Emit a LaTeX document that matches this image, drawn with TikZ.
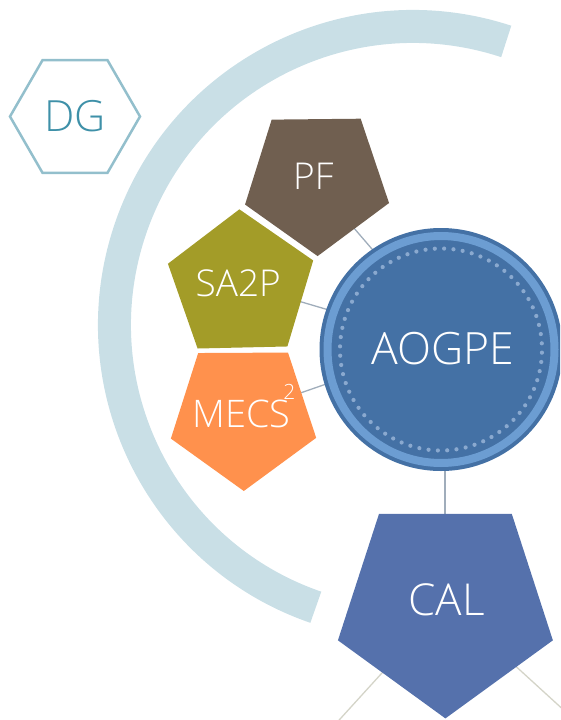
\documentclass[tikz,border=0pt]{standalone}
\usepackage{fontspec}
\setmainfont{Open Sans Light}
\usetikzlibrary{shapes.geometric,backgrounds}
\definecolor{arcC}{HTML}{C9DFE6}
\definecolor{hexC}{HTML}{93BFCC}
\definecolor{dgC}{HTML}{3E90A8}
\definecolor{pfC}{HTML}{705F50}
\definecolor{saC}{HTML}{A39C28}
\definecolor{meC}{HTML}{FF914D}
\definecolor{calC}{HTML}{5571AC}
\definecolor{hubC}{HTML}{4471A5}
\definecolor{ringC}{HTML}{6C9DD2}
\definecolor{dotC}{HTML}{8AA9CF}
\definecolor{linkC}{HTML}{A0ADBB}
\definecolor{linkB}{HTML}{D4D4C8}
\newcommand{\fs}[1]{\fontsize{#1}{#1}\selectfont}
\tikzset{
  penta/.style={regular polygon,regular polygon sides=5,inner sep=0pt,outer sep=0pt,draw=none,text=white},
  lbl/.style={text=white,inner sep=0pt,outer sep=0pt},
  link/.style={draw=linkC,line width=1.3pt},
  linkb/.style={draw=linkB,line width=1.3pt}
}
\begin{document}
\begin{tikzpicture}[x=1pt,y=-1pt]
\clip (0,0) rectangle (560,720);
\draw[arcC,line width=33pt] ([shift={(71.8:298.5pt)}]413,325) arc[start angle=71.8,end angle=251,radius=298.5pt];
\node[regular polygon,regular polygon sides=6,minimum size=130pt,inner sep=0pt,outer sep=0pt,draw=hexC,line width=2.5pt,text=dgC,font=\fs{43}] (DG) at (75,116.5) {DG};
\node[penta,fill=pfC,minimum size=151.4pt,shape border rotate=180.6,label={[lbl,font=\fs{37},xshift=-3.5pt,yshift=4pt]center:PF}] (PF) at (316.8,180.4) {};
\node[penta,fill=saC,minimum size=152.8pt,shape border rotate=1.3,label={[lbl,font=\fs{37},xshift=-2.8pt,yshift=2.4pt]center:SA2P}] (SA2P) at (241.1,285.7) {};
\node[penta,fill=meC,minimum size=152.8pt,shape border rotate=180.3,label={[lbl,font=\fs{38},xshift=-2.1pt,yshift=0.6pt]center:{MECS\rlap{\hspace{-7pt}\smash{\raisebox{28pt}{\fs{21}2}}}}}] (MECS) at (243.4,414.6) {};
\node[penta,fill=calC,minimum size=226pt,shape border rotate=180,label={[lbl,font=\fs{44},xshift=1.3pt,yshift=5.4pt]center:CAL}] (CAL) at (445.4,605.4) {};
\node[circle,fill=hubC,minimum size=243pt,inner sep=0pt,outer sep=0pt,text=white,font=\fs{44.5},
  path picture={
    \draw[ringC,line width=8pt] (path picture bounding box.center) circle[radius=113.5pt];
    \foreach \a in {0,...,67}{
      \fill[dotC] ([shift={(88.22+\a*5.294:101pt)}]path picture bounding box.center) circle[radius=2.1pt];
    }
  }] (AOGPE) at (441,349.5) {\hspace*{3pt}\raisebox{2.5pt}{AOGPE}};
\coordinate (calL) at (316.4,745);
\coordinate (calR) at (600,743.2);
\begin{scope}[on background layer]
\draw[link] ([xshift=-3.8pt]PF.center) -- ([xshift=17.3pt]AOGPE.center);
\draw[link] ([yshift=1.5pt]SA2P.center) -- ([yshift=6.5pt]AOGPE.center);
\draw[link] ([yshift=1.8pt]MECS.center) -- ([yshift=5.4pt]AOGPE.center);
\draw[link] ([xshift=4pt]AOGPE.center) -- ([xshift=-0.4pt]CAL.center);
\draw[linkb] ([xshift=-1.9pt]CAL.center) -- (calL);
\draw[linkb] ([yshift=3.4pt]CAL.center) -- (calR);
\end{scope}
\end{tikzpicture}
\end{document}
